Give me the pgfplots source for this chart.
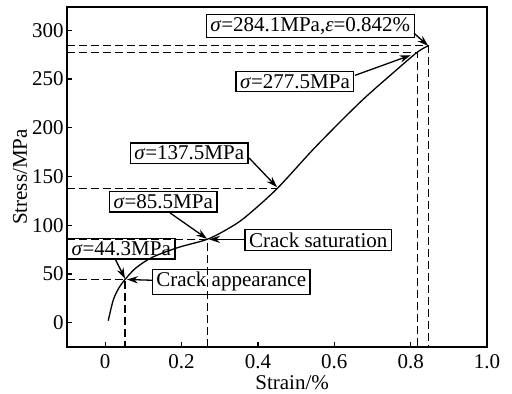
\documentclass[border=0pt]{standalone}
\usepackage{fontspec}
\setmainfont{Liberation Serif}
\usepackage{pgfplots}
\pgfplotsset{compat=1.18}
\usetikzlibrary{arrows.meta}
\begin{document}
\begin{tikzpicture}[font=\fontsize{10.5}{12}\selectfont,
 box/.style={draw=black, line width=0.65pt, inner xsep=2pt, inner ysep=1.5pt},
 dsh/.style={black, line width=0.6pt, dash pattern=on 4pt off 2pt},
 arr/.style={-{Stealth[length=5.5pt,width=3.6pt]}, line width=0.65pt}]
\begin{axis}[
 scale only axis, width=210pt, height=170pt,
 xmin=-0.1, xmax=1.0, ymin=-25, ymax=324,
 xtick={0,0.2,0.4,0.6,0.8,1.0}, xticklabels={0,0.2,0.4,0.6,0.8,1.0},
 ytick={0,50,100,150,200,250,300},
 tick pos=left, tick align=inside, major tick length=2.5pt,
 /pgf/number format/assume math mode=true,
 axis line style={line width=0.8pt},
 tick style={line width=0.65pt, black},
 xlabel={Strain/\%}, ylabel={Stress/MPa},
 xlabel style={at={(axis description cs:0.536,-0.083)}, anchor=north, inner sep=0pt},
 ylabel style={at={(axis description cs:-0.112,0.5)}, anchor=center},
 yticklabel style={inner xsep=1.5pt},
 xticklabel style={inner ysep=0pt, yshift=-3.5pt},
 tick label style={font=\fontsize{10.5}{12}\selectfont},
 clip=false,
]
% dashed guide lines
\addplot[dsh] coordinates {(-0.1,44.3) (0.052,44.3) (0.052,-25)};
\addplot[dsh] coordinates {(-0.1,85.5) (0.267,85.5) (0.267,-25)};
\addplot[dsh] coordinates {(-0.1,137.5) (0.45,137.5)};
\addplot[dsh] coordinates {(-0.1,277.5) (0.817,277.5) (0.817,-25)};
\addplot[dsh] coordinates {(-0.1,284.1) (0.846,284.1) (0.846,-25)};
% stress-strain curve
\addplot[black, line width=0.65pt, smooth, tension=0.5] coordinates {
 (0.008,2) (0.021,23) (0.035,35) (0.052,44.3) (0.08,56) (0.123,67)
 (0.19,77) (0.267,85.5) (0.32,96) (0.366,108) (0.45,137.5) (0.55,180)
 (0.667,226) (0.75,255) (0.817,277.5) (0.846,284.1)};
% annotations
\node[box] at (axis cs:0.537,304.5) {\textit{σ}=284.1MPa,\textit{ε}=0.842\%};
\draw[arr] (axis cs:0.809,297) -- (axis cs:0.846,284.1);
\node[box] at (axis cs:0.497,247.7) {\textit{σ}=277.5MPa};
\draw[arr] (axis cs:0.654,253.8) -- (axis cs:0.8,274.5);
\node[box] at (axis cs:0.22,174) {\textit{σ}=137.5MPa};
\draw[arr] (axis cs:0.377,169) -- (axis cs:0.45,139);
\node[box] at (axis cs:0.152,124) {\textit{σ}=85.5MPa};
\draw[arr] (axis cs:0.17,112.6) -- (axis cs:0.267,86);
\node[box] at (axis cs:0.042,75.7) {\textit{σ}=44.3MPa};
\draw[arr] (axis cs:0.026,65.5) -- (axis cs:0.052,45);
\node[box] at (axis cs:0.558,85) {Crack saturation};
\draw[arr] (axis cs:0.367,85.5) -- (axis cs:0.272,85.5);
\node[box] at (axis cs:0.33,42) {Crack appearance};
\draw[arr] (axis cs:0.123,43.5) -- (axis cs:0.057,44.3);
\end{axis}
\pgfresetboundingbox
\useasboundingbox ([xshift=-33.5pt,yshift=-23.5pt]current axis.south west) rectangle ([xshift=12.5pt,yshift=3.5pt]current axis.north east);
\end{tikzpicture}
\end{document}
